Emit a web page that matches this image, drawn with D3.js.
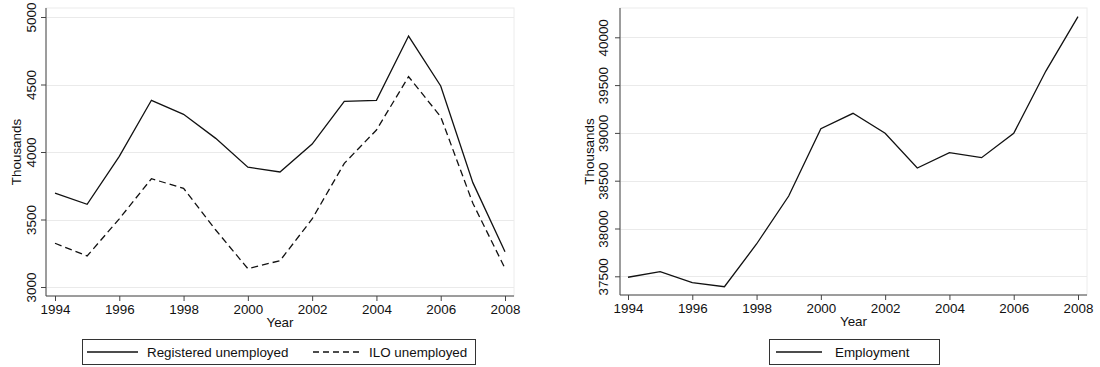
<!DOCTYPE html>
<html><head><meta charset="utf-8">
<script src="https://cdn.jsdelivr.net/npm/d3@7"></script>
<style>body{margin:0;background:#fff}svg{display:block}text{font-family:"Liberation Sans",Arial,sans-serif;fill:#111}</style>
</head><body><svg id="c" width="1100" height="367"></svg>
<script>
const years = [1994,1995,1996,1997,1998,1999,2000,2001,2002,2003,2004,2005,2006,2007,2008];
const registeredUnemployed = [3696,3613,3968,4383,4279,4101,3887,3852,4059,4375,4383,4859,4489,3773,3261];
const iloUnemployed = [3324,3230,3505,3802,3731,3422,3136,3195,3504,3916,4163,4558,4261,3620,3138];
const employment = [37490,37548,37433,37391,37838,38340,39044,39205,38996,38633,38793,38741,38996,39647,40216];
const xTicks = [1994,1996,1998,2000,2002,2004,2006,2008];
const leftYTicks = [3000,3500,4000,4500,5000];
const rightYTicks = [37500,38000,38500,39000,39500,40000];

const svg = d3.select("#c");

function panel(o){
  const g = svg.append("g");
  const x = d3.scaleLinear().domain([1994,2008]).range([o.x0,o.x1]);
  const y = d3.scaleLinear().domain(o.yd).range([o.yb0,o.yb1]);
  g.append("rect").attr("x",o.L).attr("y",o.T).attr("width",o.R-o.L).attr("height",o.B-o.T)
    .attr("fill","none").attr("stroke","#ececec").attr("stroke-width",1);
  g.selectAll(".grid").data(o.yticks).enter().append("line")
    .attr("x1",o.L).attr("x2",o.R).attr("y1",d=>Math.round(y(d))+0.5).attr("y2",d=>Math.round(y(d))+0.5)
    .attr("stroke","#eaeaea").attr("stroke-width",1.2);
  const ya = g.append("g").attr("transform",`translate(${o.L},0)`)
    .call(d3.axisLeft(y).tickValues(o.yticks).tickSize(5).tickSizeOuter(0).tickFormat(d3.format("d")));
  ya.select(".domain").attr("d",`M0,${o.T}V${o.B}`).attr("stroke","#444");
  ya.selectAll(".tick line").attr("stroke","#444");
  ya.selectAll(".tick text").attr("transform","rotate(-90)").attr("x",0).attr("y",o.ylabOff)
    .attr("dy","0").attr("text-anchor","middle").style("font-size","13.4px");
  const xa = g.append("g").attr("transform",`translate(0,${o.B})`)
    .call(d3.axisBottom(x).tickValues(xTicks).tickSize(5).tickSizeOuter(0).tickFormat(d3.format("d")));
  xa.select(".domain").attr("d",`M${o.L},0H${o.R}`).attr("stroke","#444");
  xa.selectAll(".tick line").attr("stroke","#444");
  xa.selectAll(".tick text").attr("y",8).style("font-size","13.4px");
  g.append("text").attr("x",(o.L+o.R)/2).attr("y",o.B+31).attr("text-anchor","middle").style("font-size","13.4px").text("Year");
  g.append("text").attr("transform",`translate(${o.ytx},${(o.T+o.B)/2}) rotate(-90)`).attr("text-anchor","middle").style("font-size","13.4px").text("Thousands");
  o.series.forEach(s=>{
    g.append("path").datum(s.values).attr("fill","none").attr("stroke","#111").attr("stroke-width",1.3)
      .attr("stroke-dasharray",s.dash||null)
      .attr("d",d3.line().x((d,i)=>x(years[i])).y(d=>y(d)));
  });
  const lg = g.append("g");
  lg.append("rect").attr("x",o.lx0+0.5).attr("y",339.5).attr("width",o.lx1-o.lx0).attr("height",25)
    .attr("fill","#fff").attr("stroke","#333");
  o.series.forEach(s=>{
    lg.append("line").attr("x1",s.lsx).attr("x2",s.lsx+s.llen).attr("y1",352).attr("y2",352)
      .attr("stroke","#111").attr("stroke-width",1.3).attr("stroke-dasharray",s.ldash||null);
    lg.append("text").attr("x",s.ltx).attr("y",357).style("font-size","13.4px").text(s.name);
  });
}

panel({L:46,R:514,T:8,B:296,x0:55,x1:505,yd:[3000,5000],yb0:287,yb1:17,yticks:leftYTicks,ytx:21,ylabOff:-10,
  lx0:82,lx1:475,
  series:[{name:"Registered unemployed",values:registeredUnemployed,lsx:87,llen:51,ltx:147},
          {name:"ILO unemployed",values:iloUnemployed,dash:"7,4",ldash:"6,4",lsx:313,llen:48,ltx:369}]});
panel({L:620,R:1087,T:8,B:295,x0:628,x1:1078,yd:[37500,40000],yb0:276.3,yb1:37.3,yticks:rightYTicks,ytx:594,ylabOff:-12,
  lx0:769,lx1:939,
  series:[{name:"Employment",values:employment,lsx:776,llen:46,ltx:835}]});
</script></body></html>
